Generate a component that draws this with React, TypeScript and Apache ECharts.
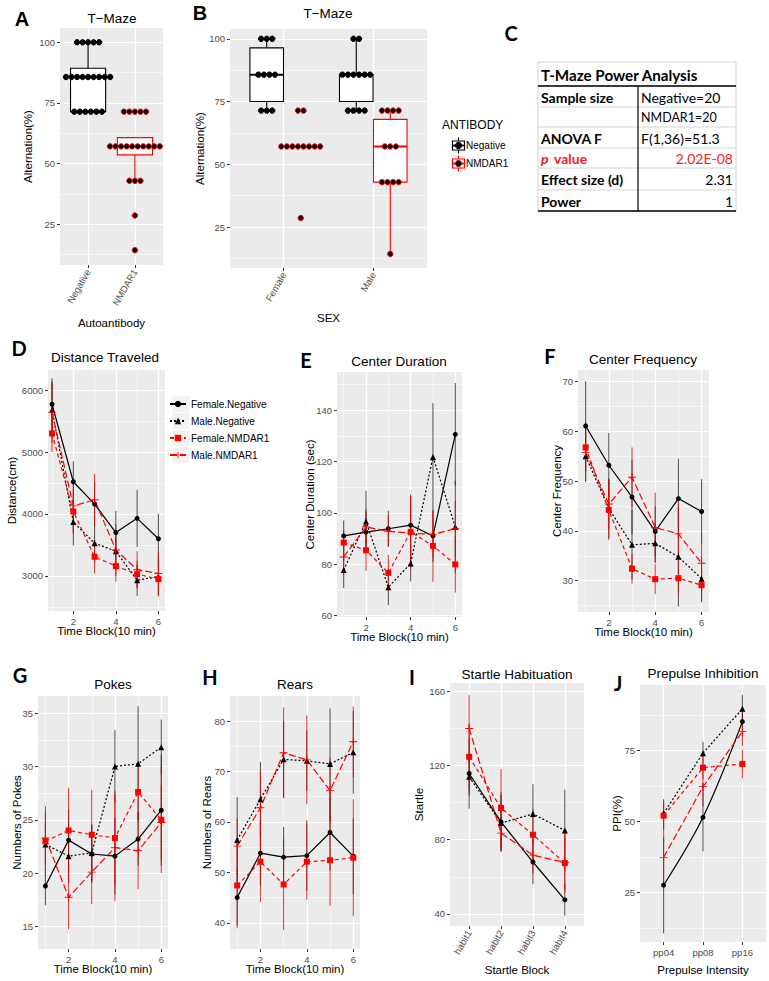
import React, { useEffect, useRef } from "react";
import * as echarts from "echarts";

const FONT = "'Liberation Sans', Arial, sans-serif";
const TFONT = "Lato, 'Open Sans', sans-serif";
const RED = "#FF0000";

// ---------- Panel A : T-Maze by autoantibody ----------
const aCategories = ["Negative", "NMDAR1"];
const aNegBox = [71.4, 71.4, 85.7, 89.3, 100]; // lower whisker, Q1, median, Q3, upper whisker
const aNmdBox = [42.9, 53.6, 57.1, 60.7, 60.7];
const aNegDotValues = [100, 85.7, 71.4];
const aNegDotCounts = [5, 9, 6];
const aNmdDotValues = [71.4, 57.1, 42.9, 28.6, 14.3];
const aNmdDotCounts = [5, 10, 3, 1, 1];
const altTicks = [25, 50, 75, 100];
const altMinor = [12.5, 37.5, 62.5, 87.5];

// ---------- Panel B : T-Maze by sex ----------
const bCategories = ["Female", "Male"];
const bAntibodies = ["Negative", "NMDAR1"];
const bFemaleNegBox = [71.4, 75.0, 85.7, 96.4, 100];
const bFemaleNmdBox = [57.1, 57.1, 57.1, 57.1, 57.1];
const bMaleNegBox = [71.4, 75.0, 85.7, 85.7, 100];
const bMaleNmdBox = [14.3, 42.9, 57.1, 67.9, 71.4];
const bFemaleNegDotValues = [100, 85.7, 71.4];
const bFemaleNegDotCounts = [3, 4, 3];
const bFemaleNmdDotValues = [71.4, 57.1, 28.6];
const bFemaleNmdDotCounts = [2, 8, 1];
const bMaleNegDotValues = [100, 85.7, 71.4];
const bMaleNegDotCounts = [2, 6, 4];
const bMaleNmdDotValues = [71.4, 57.1, 42.9, 14.3];
const bMaleNmdDotCounts = [4, 3, 4, 1];

// ---------- Panel C : table ----------
const tableTitle = "T-Maze Power Analysis";
const tableLabels = ["Sample size", "", "ANOVA F", "value", "Effect size (d)", "Power"];
const tableValues = ["Negative=20", "NMDAR1=20", "F(1,36)=51.3", "2.02E-08", "2.31", "1"];

// ---------- Groups ----------
const GROUPS = ["Female.Negative", "Male.Negative", "Female.NMDAR1", "Male.NMDAR1"];
const PLUS = "path://M4.45,0H5.55V4.45H10V5.55H5.55V10H4.45V5.55H0V4.45H4.45Z";
const G_COLOR = ["#000000", "#000000", RED, RED];
const G_ERR = ["#222222", "#222222", "#D80000", "#D80000"];
const G_DASH: any[] = ["solid", [2, 2], [4, 3], [7, 3]];
const G_SYMBOL = ["circle", "triangle", "rect", PLUS];
const G_SYMSIZE = [5, 6, 6, 8];

const timeBlocks = [1, 2, 3, 4, 5, 6];

// D: Distance Traveled
const dFemaleNeg = [5770, 4520, 4160, 3700, 3930, 3600];
const dMaleNeg = [5680, 3870, 3530, 3400, 2930, 2990];
const dFemaleNmd = [5300, 4040, 3310, 3160, 3030, 2950];
const dMaleNmd = [5640, 4130, 4230, 3420, 3100, 3040];
const dErrFemaleNeg = [420, 330, 350, 350, 460, 400];
const dErrMaleNeg = [450, 380, 300, 300, 250, 300];
const dErrFemaleNmd = [300, 350, 270, 250, 220, 280];
const dErrMaleNmd = [500, 450, 420, 420, 300, 350];

// E: Center Duration
const eFemaleNeg = [91.0, 92.5, 93.8, 95.2, 91.0, 130.6];
const eMaleNeg = [77.7, 96.6, 71.0, 80.3, 121.8, 94.5];
const eFemaleNmd = [88.4, 85.4, 76.6, 92.6, 87.1, 79.9];
const eMaleNmd = [82.8, 94.5, 92.8, 92.1, 91.6, 93.8];
const eErrFemaleNeg = [6, 8, 7, 12, 10, 20];
const eErrMaleNeg = [7, 12, 7, 7, 21, 18];
const eErrFemaleNmd = [5, 8, 7, 14, 14, 11];
const eErrMaleNmd = [7, 7, 6, 14, 9, 11];

// F: Center Frequency
const fFemaleNeg = [61.1, 53.2, 46.8, 39.9, 46.5, 43.9];
const fMaleNeg = [55.0, 44.5, 37.2, 37.5, 34.8, 30.4];
const fFemaleNmd = [56.8, 44.2, 32.4, 30.3, 30.5, 29.1];
const fMaleNmd = [55.8, 45.4, 50.8, 40.7, 39.4, 33.5];
const fErrFemaleNeg = [9, 6.5, 7.5, 5, 8, 6.5];
const fErrMaleNeg = [5, 6, 7, 4, 10, 4.5];
const fErrFemaleNmd = [5, 6, 3, 3, 3, 3.5];
const fErrMaleNmd = [6, 5, 6, 7, 6, 6];

// G: Pokes
const gFemaleNeg = [18.8, 23.1, 21.8, 21.6, 23.2, 25.9];
const gMaleNeg = [22.7, 21.6, 21.9, 30.0, 30.25, 31.8];
const gFemaleNmd = [23.0, 24.0, 23.6, 23.3, 27.6, 25.0];
const gMaleNmd = [23.3, 17.75, 20.1, 22.4, 22.1, 24.75];
const gErrFemaleNeg = [1.8, 2.9, 2.7, 3.6, 2.5, 5.2];
const gErrMaleNeg = [2.0, 2.5, 2.7, 3.4, 5.4, 2.6];
const gErrFemaleNmd = [3.3, 4.0, 4.2, 4.4, 2.6, 5.0];
const gErrMaleNmd = [2.5, 3.0, 3.0, 5.0, 3.6, 3.5];

// H: Rears
const hFemaleNeg = [45.0, 53.8, 53.0, 53.3, 57.9, 53.2];
const hMaleNeg = [56.4, 64.5, 72.4, 72.1, 71.5, 73.8];
const hFemaleNmd = [47.4, 52.1, 47.6, 52.1, 52.4, 52.9];
const hMaleNmd = [55.2, 62.8, 73.7, 72.3, 66.2, 75.9];
const hErrFemaleNeg = [5.5, 6.4, 6, 7, 7.5, 7.5];
const hErrMaleNeg = [8.5, 7.4, 7.6, 6, 11, 8.2];
const hErrFemaleNmd = [8.5, 8, 9, 7.5, 9, 11.6];
const hErrMaleNmd = [5.5, 7.3, 9, 8.8, 6.5, 7];

// I: Startle Habituation
const iCategories = ["habit1", "habit2", "habit3", "habit4"];
const iFemaleNeg = [115.7, 89.6, 68.0, 47.6];
const iMaleNeg = [113.9, 89.0, 93.9, 85.0];
const iFemaleNmd = [124.7, 97.1, 82.7, 67.4];
const iMaleNmd = [140.0, 83.6, 71.7, 67.7];
const iErrFemaleNeg = [19, 16, 12, 8.5];
const iErrMaleNeg = [10, 15, 16, 22];
const iErrFemaleNmd = [18, 21, 14, 16];
const iErrMaleNmd = [18, 10, 10, 15];

// J: Prepulse Inhibition
const jCategories = ["pp04", "pp08", "pp16"];
const jFemaleNeg = [27.6, 51.5, 85.2];
const jMaleNeg = [52.9, 74.1, 89.7];
const jFemaleNmd = [52.1, 69.0, 70.3];
const jMaleNmd = [37.4, 62.3, 81.7];
const jErrFemaleNeg = [17, 12, 5];
const jErrMaleNeg = [5, 4, 5];
const jErrFemaleNmd = [5, 4, 5];
const jErrMaleNmd = [11, 7, 5];

// ---------- layout ----------
type AxisCfg = { min: number; max: number; major: number[]; minor: number[]; labels?: string[]; rotate?: number; name: string; nameGap: number };
type Panel = { grid: { left: number; top: number; width: number; height: number }; x: AxisCfg; y: AxisCfg };

const panels: Panel[] = [
  { grid: { left: 60, top: 28, width: 103, height: 237 },
    x: { min: 0.4, max: 2.6, major: [1, 2], minor: [], labels: aCategories, rotate: 60, name: "Autoantibody", nameGap: 52 },
    y: { min: 8.2, max: 105.9, major: altTicks, minor: altMinor, name: "Alternation(%)", nameGap: 26 } },
  { grid: { left: 230, top: 29, width: 197, height: 239 },
    x: { min: 0.4, max: 2.6, major: [1, 2], minor: [], labels: bCategories, rotate: 60, name: "SEX", nameGap: 44 },
    y: { min: 8.7, max: 103.9, major: altTicks, minor: altMinor, name: "Alternation(%)", nameGap: 24 } },
  { grid: { left: 48, top: 370, width: 117, height: 241 },
    x: { min: 0.81, max: 6.31, major: [2, 4, 6], minor: [1, 3, 5], name: "Time Block(10 min)", nameGap: 14 },
    y: { min: 2435, max: 6323, major: [3000, 4000, 5000, 6000], minor: [2500, 3500, 4500, 5500], name: "Distance(cm)", nameGap: 30 } },
  { grid: { left: 337, top: 372, width: 125, height: 245 },
    x: { min: 0.7, max: 6.3, major: [2, 4, 6], minor: [1, 3, 5], name: "Time Block(10 min)", nameGap: 14 },
    y: { min: 59.4, max: 154.9, major: [60, 80, 100, 120, 140], minor: [70, 90, 110, 130, 150], name: "Center Duration (sec)", nameGap: 21 } },
  { grid: { left: 578, top: 370, width: 131, height: 242 },
    x: { min: 0.67, max: 6.32, major: [2, 4, 6], minor: [1, 3, 5], name: "Time Block(10 min)", nameGap: 14 },
    y: { min: 23.7, max: 72.35, major: [30, 40, 50, 60, 70], minor: [25, 35, 45, 55, 65], name: "Center Frequency", nameGap: 15 } },
  { grid: { left: 38, top: 696, width: 130, height: 253 },
    x: { min: 0.68, max: 6.29, major: [2, 4, 6], minor: [1, 3, 5], name: "Time Block(10 min)", nameGap: 14 },
    y: { min: 12.9, max: 36.6, major: [15, 20, 25, 30, 35], minor: [17.5, 22.5, 27.5, 32.5], name: "Numbers of Pokes", nameGap: 15 } },
  { grid: { left: 230, top: 696, width: 130, height: 253 },
    x: { min: 0.69, max: 6.29, major: [2, 4, 6], minor: [1, 3, 5], name: "Time Block(10 min)", nameGap: 14 },
    y: { min: 34.8, max: 84.96, major: [40, 50, 60, 70, 80], minor: [45, 55, 65, 75], name: "Numbers of Rears", nameGap: 17 } },
  { grid: { left: 450, top: 683, width: 134, height: 243 },
    x: { min: 0.4, max: 4.6, major: [1, 2, 3, 4], minor: [], labels: iCategories, rotate: 60, name: "Startle Block", nameGap: 38 },
    y: { min: 33.5, max: 164.5, major: [40, 80, 120, 160], minor: [60, 100, 140], name: "Startle", nameGap: 25 } },
  { grid: { left: 640, top: 685, width: 126, height: 257 },
    x: { min: 0.4, max: 3.6, major: [1, 2, 3], minor: [], labels: jCategories, name: "Prepulse Intensity", nameGap: 22 },
    y: { min: 7.6, max: 98.1, major: [25, 50, 75], minor: [12.5, 37.5, 62.5, 87.5], name: "PPI(%)", nameGap: 17 } },
];

function axisPair(gi: number, c: AxisCfg, isX: boolean) {
  const labels = c.labels;
  const major: any = {
    type: "value", gridIndex: gi, min: c.min, max: c.max,
    position: isX ? "bottom" : "left",
    axisLine: { show: false },
    axisTick: { show: true, length: 3, customValues: c.major, lineStyle: { color: "#333333", width: 1 } },
    axisLabel: {
      show: true, customValues: c.major, color: "#4D4D4D", fontSize: 9.5, fontFamily: FONT, margin: 5,
      rotate: c.rotate || 0,
      formatter: labels ? (v: number) => labels[Math.round(v) - 1] : (v: number) => String(v),
    },
    splitLine: { show: true, lineStyle: { color: "#FFFFFF", width: 1.2 } },
    name: c.name, nameLocation: "middle", nameGap: c.nameGap, nameRotate: isX ? 0 : 90, nameMoveOverlap: false,
    nameTextStyle: { color: "#000000", fontSize: 11.5, fontFamily: FONT },
  };
  const minor: any = {
    type: "value", gridIndex: gi, min: c.min, max: c.max,
    position: isX ? "top" : "right",
    axisLine: { show: false },
    axisTick: { show: false, customValues: c.minor.length ? c.minor : [c.min] },
    axisLabel: { show: false, customValues: c.minor.length ? c.minor : [c.min] },
    splitLine: { show: c.minor.length > 0, lineStyle: { color: "#FFFFFF", width: 0.6 } },
  };
  return [major, minor];
}

function dotRows(center: number, values: number[], counts: number[], step: number) {
  const pts: number[][] = [];
  values.forEach((v, i) => {
    const n = counts[i];
    for (let k = 0; k < n; k++) pts.push([center + (k - (n - 1) / 2) * step, v]);
  });
  return pts;
}

function boxSeries(pi: number, x: number, box: number[], color: string, w: number) {
  return {
    type: "custom", xAxisIndex: pi * 2, yAxisIndex: pi * 2, z: 3, silent: true,
    data: [[x, ...box]], encode: { x: 0, y: [1, 2, 3, 4, 5] },
    renderItem: (_p: any, api: any) => {
      const xv = api.value(0);
      const lo = api.coord([xv, api.value(1)]);
      const q1 = api.coord([xv, api.value(2)]);
      const md = api.coord([xv, api.value(3)]);
      const q3 = api.coord([xv, api.value(4)]);
      const hi = api.coord([xv, api.value(5)]);
      const bw = api.size([w, 0])[0];
      const cx = md[0];
      const st = { stroke: color, lineWidth: 1.1 };
      return {
        type: "group",
        children: [
          { type: "line", shape: { x1: cx, y1: hi[1], x2: cx, y2: q3[1] }, style: st },
          { type: "line", shape: { x1: cx, y1: q1[1], x2: cx, y2: lo[1] }, style: st },
          { type: "rect", shape: { x: cx - bw / 2, y: q3[1], width: bw, height: Math.max(q1[1] - q3[1], 0) }, style: { stroke: color, lineWidth: 1.1, fill: "#FFFFFF" } },
          { type: "line", shape: { x1: cx - bw / 2, y1: md[1], x2: cx + bw / 2, y2: md[1] }, style: { stroke: color, lineWidth: 2 } },
        ],
      };
    },
  };
}

function dotSeries(pi: number, pts: number[][], ring: string) {
  return {
    type: "scatter", xAxisIndex: pi * 2, yAxisIndex: pi * 2, z: 4, silent: true,
    symbol: "circle", symbolSize: 5.4, data: pts,
    itemStyle: { color: "#000000", borderColor: ring, borderWidth: 1, opacity: 1 },
  };
}

function groupSeries(pi: number, xs: number[], means: number[][], errs: number[][], smoothFirst = false) {
  const out: any[] = [];
  means.forEach((m, g) => {
    const color = G_ERR[g];
    out.push({
      type: "custom", xAxisIndex: pi * 2, yAxisIndex: pi * 2, z: 3, silent: true,
      data: m.map((v, i) => [xs[i], v - errs[g][i], v + errs[g][i]]),
      encode: { x: 0, y: [1, 2] },
      renderItem: (_p: any, api: any) => {
        const a = api.coord([api.value(0), api.value(1)]);
        const b = api.coord([api.value(0), api.value(2)]);
        return { type: "line", shape: { x1: a[0], y1: a[1], x2: b[0], y2: b[1] }, style: { stroke: color, lineWidth: 1, opacity: 0.8 } };
      },
    });
  });
  means.forEach((m, g) => {
    out.push({
      type: "line", name: GROUPS[g], xAxisIndex: pi * 2, yAxisIndex: pi * 2, z: 4, silent: true,
      data: m.map((v, i) => [xs[i], v]),
      symbol: G_SYMBOL[g], symbolSize: G_SYMSIZE[g], showSymbol: true,
      smooth: smoothFirst && g === 0 ? 0.35 : false,
      lineStyle: { color: G_COLOR[g], width: 1.2, type: G_DASH[g] },
      itemStyle: { color: G_COLOR[g] },
    });
  });
  return out;
}

function txt(text: string, x: number, y: number, o: any = {}) {
  return {
    type: "text", x, y, silent: true, z: 10,
    style: {
      text, fill: o.color || "#000000", fontSize: o.size || 13, fontWeight: o.weight || "normal",
      fontStyle: o.style || "normal", fontFamily: o.family || FONT,
      align: o.align || "center", verticalAlign: "middle",
      textAlign: o.align || "center", textVerticalAlign: "middle",
    },
  };
}

function line(x1: number, y1: number, x2: number, y2: number, color: string, w: number) {
  return { type: "line", silent: true, z: 9, shape: { x1, y1, x2, y2 }, style: { stroke: color, lineWidth: w } };
}

function buildOption() {
  const grids: any[] = [];
  const xAxes: any[] = [];
  const yAxes: any[] = [];
  panels.forEach((p, gi) => {
    grids.push({ ...p.grid, show: true, backgroundColor: "#EBEBEB", borderWidth: 0, containLabel: false, outerBoundsMode: "none" });
    xAxes.push(...axisPair(gi, p.x, true));
    yAxes.push(...axisPair(gi, p.y, false));
  });

  const series: any[] = [];
  // A
  series.push(boxSeries(0, 1, aNegBox, "#000000", 0.75));
  series.push(boxSeries(0, 2, aNmdBox, RED, 0.75));
  series.push(dotSeries(0, dotRows(1, aNegDotValues, aNegDotCounts, 0.118), "#000000"));
  series.push(dotSeries(0, dotRows(2, aNmdDotValues, aNmdDotCounts, 0.118), RED));
  // B
  const off = 0.19, bw = 0.375, bstep = 0.062;
  series.push(boxSeries(1, 1 - off, bFemaleNegBox, "#000000", bw));
  series.push(boxSeries(1, 1 + off, bFemaleNmdBox, RED, bw));
  series.push(boxSeries(1, 2 - off, bMaleNegBox, "#000000", bw));
  series.push(boxSeries(1, 2 + off, bMaleNmdBox, RED, bw));
  series.push(dotSeries(1, dotRows(1 - off, bFemaleNegDotValues, bFemaleNegDotCounts, bstep), "#000000"));
  series.push(dotSeries(1, dotRows(1 + off, bFemaleNmdDotValues, bFemaleNmdDotCounts, bstep), RED));
  series.push(dotSeries(1, dotRows(2 - off, bMaleNegDotValues, bMaleNegDotCounts, bstep), "#000000"));
  series.push(dotSeries(1, dotRows(2 + off, bMaleNmdDotValues, bMaleNmdDotCounts, bstep), RED));
  // D-J
  series.push(...groupSeries(2, timeBlocks, [dFemaleNeg, dMaleNeg, dFemaleNmd, dMaleNmd], [dErrFemaleNeg, dErrMaleNeg, dErrFemaleNmd, dErrMaleNmd]));
  series.push(...groupSeries(3, timeBlocks, [eFemaleNeg, eMaleNeg, eFemaleNmd, eMaleNmd], [eErrFemaleNeg, eErrMaleNeg, eErrFemaleNmd, eErrMaleNmd]));
  series.push(...groupSeries(4, timeBlocks, [fFemaleNeg, fMaleNeg, fFemaleNmd, fMaleNmd], [fErrFemaleNeg, fErrMaleNeg, fErrFemaleNmd, fErrMaleNmd]));
  series.push(...groupSeries(5, timeBlocks, [gFemaleNeg, gMaleNeg, gFemaleNmd, gMaleNmd], [gErrFemaleNeg, gErrMaleNeg, gErrFemaleNmd, gErrMaleNmd]));
  series.push(...groupSeries(6, timeBlocks, [hFemaleNeg, hMaleNeg, hFemaleNmd, hMaleNmd], [hErrFemaleNeg, hErrMaleNeg, hErrFemaleNmd, hErrMaleNmd]));
  const iX = iCategories.map((_c, i) => i + 1);
  series.push(...groupSeries(7, iX, [iFemaleNeg, iMaleNeg, iFemaleNmd, iMaleNmd], [iErrFemaleNeg, iErrMaleNeg, iErrFemaleNmd, iErrMaleNmd]));
  const jX = jCategories.map((_c, i) => i + 1);
  series.push(...groupSeries(8, jX, [jFemaleNeg, jMaleNeg, jFemaleNmd, jMaleNmd], [jErrFemaleNeg, jErrMaleNeg, jErrFemaleNmd, jErrMaleNmd], true));

  const g: any[] = [];
  // panel letters
  const letters: [string, number, number, string][] = [
    ["A", 22, 19, FONT], ["B", 200, 13, FONT], ["C", 511, 33, TFONT], ["D", 19, 348, TFONT], ["E", 306, 360, TFONT],
    ["F", 550, 356, TFONT], ["G", 20, 675, TFONT], ["H", 210, 677, TFONT], ["I", 412, 677, TFONT], ["J", 618, 683, TFONT],
  ];
  letters.forEach(([t, x, y, f]) => g.push(txt(t, x, y, { size: 20, weight: "bold", family: f })));
  // panel titles
  const titles: [string, number, number][] = [
    ["T−Maze", 112, 18], ["T−Maze", 328, 13], ["Distance Traveled", 105, 357], ["Center Duration", 399, 361],
    ["Center Frequency", 643, 359], ["Pokes", 113, 684], ["Rears", 295, 684], ["Startle Habituation", 517, 674],
    ["Prepulse Inhibition", 703, 673],
  ];
  titles.forEach(([t, x, y]) => g.push(txt(t, x, y, { size: 13.5 })));

  // legend backgrounds for D
  GROUPS.forEach((_n, i) => g.push({ type: "rect", silent: true, z: 0, shape: { x: 172, y: 395.5 + i * 17, width: 18, height: 17 }, style: { fill: "#F2F2F2", stroke: "#FFFFFF", lineWidth: 1 } }));

  // legend for B
  g.push(txt("ANTIBODY", 442, 125, { size: 12, align: "left" }));
  bAntibodies.forEach((name, i) => {
    const cy = 145.5 + i * 18;
    const cx = 458.5;
    const col = i === 0 ? "#000000" : RED;
    g.push({ type: "rect", silent: true, z: 0, shape: { x: 450, y: cy - 8.5, width: 17, height: 17 }, style: { fill: "#F2F2F2", stroke: "#FFFFFF", lineWidth: 1 } });
    g.push(line(cx, cy - 8, cx, cy + 8, col, 1.1));
    g.push({ type: "rect", silent: true, z: 9, shape: { x: cx - 6, y: cy - 4.5, width: 12, height: 9 }, style: { fill: "#FFFFFF", stroke: col, lineWidth: 1.1 } });
    g.push(line(cx - 6, cy, cx + 6, cy, col, 1.8));
    g.push({ type: "circle", silent: true, z: 10, shape: { cx, cy, r: 3.2 }, style: { fill: "#000000", stroke: col, lineWidth: 1 } });
    g.push(txt(name, 466, cy, { size: 10, align: "left" }));
  });

  // table C
  const x0 = 538, x1 = 736, xc = 638;
  const rows = [62, 86, 107, 127, 148, 168, 190, 211];
  for (let r = 0; r < rows.length; r++) g.push(line(x0, rows[r], x1, rows[r], "#C8C8C8", 0.8));
  g.push(line(x0, rows[0], x0, rows[7], "#C8C8C8", 0.8));
  g.push(line(x1, rows[0], x1, rows[7], "#C8C8C8", 0.8));
  g.push(line(x0, rows[1], x1, rows[1], "#000000", 1.5));
  g.push(line(x0, rows[7], x1, rows[7], "#000000", 1.5));
  g.push(line(xc, rows[1], xc, rows[7], "#000000", 1.2));
  g.push(txt(tableTitle, 541, 74.5, { size: 15.2, weight: "bold", family: TFONT, align: "left" }));
  tableLabels.forEach((lab, i) => {
    const cy = (rows[i + 1] + rows[i + 2]) / 2 + 0.5;
    const isP = i === 3;
    const col = isP ? "#EE2222" : "#000000";
    if (isP) {
      g.push(txt("p", 541, cy, { size: 14, weight: "bold", style: "italic", family: TFONT, align: "left", color: col }));
      g.push(txt(lab, 554, cy, { size: 14, weight: "bold", family: TFONT, align: "left", color: col }));
    } else if (lab) {
      g.push(txt(lab, 541, cy, { size: 14, weight: "bold", family: TFONT, align: "left" }));
    }
    const v = tableValues[i];
    const rightAlign = i >= 3;
    g.push(txt(v, rightAlign ? 733 : 641, cy, { size: i === 1 ? 12.5 : 14, family: TFONT, align: rightAlign ? "right" : "left", color: col }));
  });

  return {
    animation: false,
    backgroundColor: "#FFFFFF",
    textStyle: { fontFamily: FONT },
    grid: grids,
    xAxis: xAxes,
    yAxis: yAxes,
    legend: {
      show: true, orient: "vertical", left: 169, top: 398, padding: 0, itemWidth: 16, itemHeight: 8, itemGap: 5,
      selectedMode: false, data: GROUPS, textStyle: { fontSize: 10, color: "#000000", fontFamily: FONT, lineHeight: 12 },
    },
    graphic: { elements: g },
    series,
  };
}

export default function App() {
  const ref = useRef<HTMLDivElement>(null);
  useEffect(() => {
    if (!ref.current) return;
    const chart = echarts.init(ref.current, undefined, { renderer: "svg" });
    chart.setOption(buildOption() as any);
    return () => chart.dispose();
  }, []);
  return <div ref={ref} style={{ position: "absolute", left: 0, top: 0, width: 769, height: 981, background: "#FFFFFF" }} />;
}
